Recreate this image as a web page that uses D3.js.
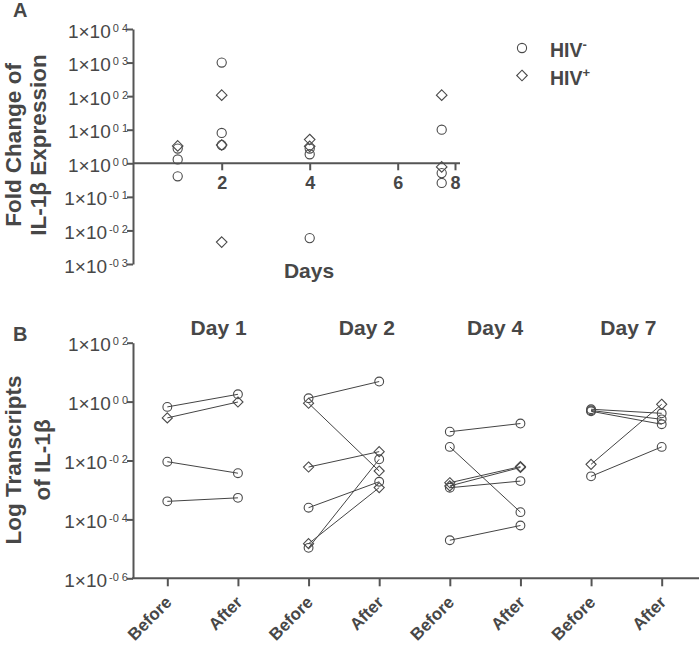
<!DOCTYPE html>
<html><head><meta charset="utf-8">
<script src="https://cdn.jsdelivr.net/npm/d3@7"></script>
<style>body{margin:0;background:#fff}svg{display:block;font-family:"Liberation Sans",Arial,sans-serif}</style>
</head><body><svg id="c" width="699" height="647"></svg>
<script>
// ---------- Panel A data ----------
const xTicksA = [2, 4, 6, 8];
const yExpA = [-3, -2, -1, 0, 1, 2, 3, 4];
const negDay  = [1, 1, 1, 2, 2, 2, 4, 4, 4, 7, 7, 7];
const negFold = [2.75, 1.3, 0.41, 1000, 8, 3.5, 2.75, 1.86, 0.0059, 10, 0.51, 0.26];
const posDay  = [1, 2, 2, 2, 4, 4, 7, 7];
const posFold = [3.3, 107, 3.5, 0.0045, 5.1, 3.2, 107, 0.78];
const legendSup = ["-", "+"];
const legendShape = ["circle", "diamond"];

// ---------- Panel B data ----------
const dayLabels = ["Day 1", "Day 2", "Day 4", "Day 7"];
const phases = ["Before", "After"];
const yExpB = [-6, -4, -2, 0, 2];
const pairDay    = [0,0,0,0, 1,1,1,1,1,1, 2,2,2,2,2,2, 3,3,3,3,3];
const pairShape  = ["circle","diamond","circle","circle",
                    "circle","diamond","diamond","circle","diamond","circle",
                    "circle","circle","diamond","diamond","circle","circle",
                    "circle","circle","circle","diamond","circle"];
const pairBefore = [0.66, 0.28, 0.0091, 0.00041,
                    1.3, 0.88, 0.006, 0.00025, 1.5e-5, 1.08e-5,
                    0.095, 0.029, 0.00176, 0.00137, 0.00119, 1.96e-5,
                    0.55, 0.50, 0.47, 0.0074, 0.0029];
const pairAfter  = [1.77, 0.97, 0.0037, 0.00054,
                    4.8, 0.0044, 0.02, 0.0019, 0.0012, 0.011,
                    0.18, 0.000176, 0.0062, 0.0058, 0.002, 6.2e-5,
                    0.40, 0.25, 0.17, 0.81, 0.029];

// ---------- styling ----------
const TXT = "#474747", AX = "#555", MK = "#4a4a4a";
const svg = d3.select("#c");

function marker(g, shape, x, y, s) {
  if (shape === "circle") {
    g.append("circle").attr("cx", x).attr("cy", y).attr("r", s)
      .attr("fill", "none").attr("stroke", MK).attr("stroke-width", 1.1);
  } else {
    const d = s * 1.15;
    g.append("path").attr("d", `M${x},${y - d}L${x + d},${y}L${x},${y + d}L${x - d},${y}Z`)
      .attr("fill", "none").attr("stroke", MK).attr("stroke-width", 1.1);
  }
}

function sciLabels(axisG, exps) {
  axisG.selectAll(".tick text").each(function (d, i) {
    const t = d3.select(this);
    const e = exps[i];
    t.text(null).attr("x", -5).attr("dy", null).attr("y", 8)
      .attr("text-anchor", "end").attr("fill", TXT).attr("font-size", 19);
    t.append("tspan").text("1\u00d710");
    t.append("tspan").attr("font-size", 11).attr("dy", -6).attr("dx", 2)
      .text((e < 0 ? "-" : "") + "0 " + Math.abs(e));
  });
}

function styleAxis(g) {
  g.selectAll("path.domain").attr("stroke", AX).attr("stroke-width", 2);
  g.selectAll(".tick line").attr("stroke", AX).attr("stroke-width", 2);
}

// ================= PANEL A =================
const yA = d3.scaleLog().domain([1e-3, 1e4]).range([264, 29]);
const xA = d3.scaleLinear().domain([0, 7, 8]).range([133.7, 441.7, 455]);

const gAy = svg.append("g").attr("transform", "translate(133,0)")
  .call(d3.axisLeft(yA).tickValues(yExpA.map(e => Math.pow(10, e))).tickSize(6).tickSizeOuter(0));
styleAxis(gAy);
sciLabels(gAy, yExpA);

const gAx = svg.append("g").attr("transform", `translate(0,${yA(1)})`)
  .call(d3.axisBottom(xA).tickValues(xTicksA).tickSize(7).tickSizeOuter(0).tickFormat(d3.format("d")));
gAx.select("path.domain").remove();
gAx.append("line").attr("x1", xA(0)).attr("x2", xA(8) + 5).attr("stroke", AX).attr("stroke-width", 2);
styleAxis(gAx);
gAx.selectAll(".tick text").attr("font-size", 18).attr("font-weight", "bold")
  .attr("fill", TXT).attr("y", 13).attr("dy", "0.71em");

const mA = svg.append("g");
negDay.forEach((d, i) => marker(mA, "circle", xA(d), yA(negFold[i]), 4.6));
posDay.forEach((d, i) => marker(mA, "diamond", xA(d), yA(posFold[i]), 4.6));

svg.append("text").attr("x", 309).attr("y", 278).attr("text-anchor", "middle")
  .attr("font-size", 21).attr("font-weight", "bold").attr("fill", TXT).text("Days");

const tA = svg.append("text").attr("transform", "translate(0,145) rotate(-90)")
  .attr("text-anchor", "middle").attr("font-size", 22.5).attr("font-weight", "bold").attr("fill", TXT);
tA.append("tspan").attr("x", 0).attr("y", 21).text("Fold Change of");
tA.append("tspan").attr("x", 0).attr("y", 46).text("IL-1\u03b2 Expression");

svg.append("text").attr("x", 13).attr("y", 17).attr("font-size", 20).attr("font-weight", "bold")
  .attr("fill", TXT).text("A");

// legend
legendSup.forEach((s, i) => {
  const y = 48 + i * 27.5;
  marker(svg, legendShape[i], 522, y, 4.6);
  const t = svg.append("text").attr("x", 550).attr("y", y + 9).attr("font-size", 19.5)
    .attr("font-weight", "bold").attr("fill", TXT);
  t.append("tspan").text("HIV");
  t.append("tspan").attr("font-size", 13).attr("dy", -8).text(s);
});

// ================= PANEL B =================
const cats = [];
dayLabels.forEach(d => phases.forEach(p => cats.push(d + "|" + p)));
const xB = d3.scalePoint().domain(cats).range([132, 697]).padding(0.5);
const yB = d3.scaleLog().domain([1e-6, 1e2]).range([578.3, 342.7]);

const gBy = svg.append("g").attr("transform", "translate(133,0)")
  .call(d3.axisLeft(yB).tickValues(yExpB.map(e => Math.pow(10, e))).tickSize(6).tickSizeOuter(0));
styleAxis(gBy);
sciLabels(gBy, yExpB);

const gBx = svg.append("g").attr("transform", `translate(0,${yB(1e-6)})`)
  .call(d3.axisBottom(xB).tickSize(8).tickSizeOuter(0).tickFormat(d => d.split("|")[1]));
gBx.select("path.domain").remove();
gBx.append("line").attr("x1", 132).attr("x2", 699).attr("stroke", AX).attr("stroke-width", 2);
styleAxis(gBx);
gBx.selectAll(".tick text").attr("font-size", 17).attr("font-weight", "bold").attr("fill", TXT)
  .attr("text-anchor", "end").attr("y", null).attr("dy", null)
  .attr("transform", "translate(5,25) rotate(-45)");

// lines
const lB = svg.append("g");
pairDay.forEach((d, i) => {
  const x1 = xB(dayLabels[d] + "|Before"), x2 = xB(dayLabels[d] + "|After");
  lB.append("line").attr("x1", x1).attr("y1", yB(pairBefore[i]))
    .attr("x2", x2).attr("y2", yB(pairAfter[i])).attr("stroke", "#444").attr("stroke-width", 1);
});
const mB = svg.append("g");
pairDay.forEach((d, i) => {
  const x1 = xB(dayLabels[d] + "|Before"), x2 = xB(dayLabels[d] + "|After");
  marker(mB, pairShape[i], x1, yB(pairBefore[i]), 4.4);
  marker(mB, pairShape[i], x2, yB(pairAfter[i]), 4.4);
});

// day titles
const titleShift = [16, 23, 10, 2];
dayLabels.forEach((d, i) => {
  const mid = (xB(d + "|Before") + xB(d + "|After")) / 2;
  svg.append("text").attr("x", mid + titleShift[i]).attr("y", 335).attr("text-anchor", "middle")
    .attr("font-size", 21).attr("font-weight", "bold").attr("fill", TXT).text(d);
});

const tB = svg.append("text").attr("transform", "translate(0,460) rotate(-90)")
  .attr("text-anchor", "middle").attr("font-size", 22.5).attr("font-weight", "bold").attr("fill", TXT);
tB.append("tspan").attr("x", 0).attr("y", 21).text("Log Transcripts");
tB.append("tspan").attr("x", 0).attr("y", 50).text("of IL-1\u03b2");

svg.append("text").attr("x", 13).attr("y", 341).attr("font-size", 20).attr("font-weight", "bold")
  .attr("fill", TXT).text("B");
</script></body></html>
